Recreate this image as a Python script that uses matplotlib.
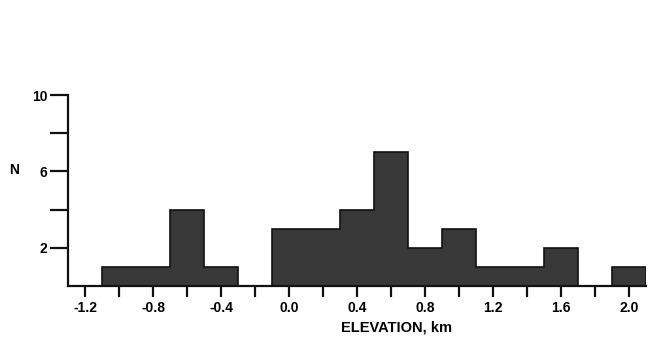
import matplotlib.pyplot as plt
import numpy as np

plt.rcParams['font.family'] = ['Liberation Sans', 'DejaVu Sans']
plt.rcParams['font.weight'] = 'bold'

# histogram of elevations, 0.2 km bins
bin_edges = [-1.1, -0.9, -0.7, -0.5, -0.3, -0.1, 0.1, 0.3, 0.5, 0.7,
             0.9, 1.1, 1.3, 1.5, 1.7, 1.9, 2.1]
counts = [1, 1, 4, 1, 0, 3, 3, 4, 7, 2, 3, 1, 1, 2, 0, 1]

x_ticks = [-1.2, -1.0, -0.8, -0.6, -0.4, -0.2, 0.0, 0.2, 0.4, 0.6,
           0.8, 1.0, 1.2, 1.4, 1.6, 1.8, 2.0]
x_labels = ['-1.2', '', '-0.8', '', '-0.4', '', '0.0', '', '0.4', '',
            '0.8', '', '1.2', '', '1.6', '', '2.0']
y_ticks = [2, 4, 6, 8, 10]
y_labels = ['2', '', '6', '', '10']

fig = plt.figure(figsize=(6.51, 3.44), dpi=100)
ax = fig.add_axes([0.1045, 0.1686, 0.888, 0.555])

ax.stairs(counts, bin_edges, fill=True, color='#383838', baseline=0)
ax.stairs(counts, bin_edges, color='#111111', linewidth=1.2, baseline=0)

ax.set_xlim(-1.3, 2.1)
ax.set_ylim(0, 10)

ax.spines['top'].set_visible(False)
ax.spines['right'].set_visible(False)
for s in ['left', 'bottom']:
    ax.spines[s].set_linewidth(1.6)
    ax.spines[s].set_color('#111111')

ax.set_xticks(x_ticks)
ax.set_xticklabels(x_labels)
ax.set_yticks(y_ticks)
ax.set_yticklabels(y_labels)
ax.tick_params(axis='x', direction='out', length=8, width=1.6, pad=3,
               labelsize=10, color='#111111')
ax.tick_params(axis='y', direction='out', length=13, width=1.6, pad=2,
               labelsize=10, color='#111111')

fig.text(397 / 651, 1 - 327 / 344, 'ELEVATION, km', ha='center', va='center',
         fontsize=10.5, fontweight='bold')
fig.text(14 / 651, 1 - 170 / 344, 'N', ha='center', va='center',
         fontsize=10, fontweight='bold')

fig.savefig('out.png', dpi=100)
